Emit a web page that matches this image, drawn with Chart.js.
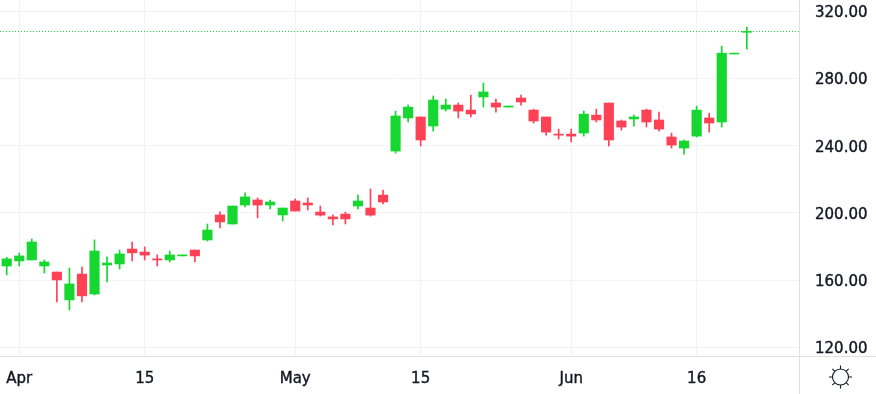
<!DOCTYPE html>
<html>
<head>
<meta charset="utf-8">
<title>Candlestick chart</title>
<script src="https://cdn.jsdelivr.net/npm/chart.js@4/dist/chart.umd.min.js"></script>
<style>
  html, body { margin: 0; padding: 0; background: #fff; }
  canvas { display: block; }
</style>
</head>
<body>
<canvas id="priceChart" width="876" height="394"></canvas>
<script>
// Daily candles, oldest first
const opens = [168.4, 171.4, 172, 168.4, 164.8, 148.2, 163.6, 151.7, 169, 169.6,
  178.5, 176.7, 172.6, 172, 174.4, 177.9, 183.9, 198.8, 193.4, 204.7,
  207.7, 204.7, 198.8, 207.1, 205.9, 200.5, 197.6, 199.3, 204.1, 202.9,
  210.6, 236.8, 256.5, 257.1, 251.7, 261.8, 264.2, 261.2, 269, 265.4,
  263, 268.4, 261.2, 257.1, 246.9, 246.9, 247.5, 258.2, 265.4, 254.7,
  255.9, 261.2, 255.3, 245.2, 238.6, 245.7, 256.5, 254.1, 294.6, 307.5];
const highs = [173.6, 176.1, 184.5, 172, 164.8, 167.2, 167.8, 183.9, 173.8, 177.9,
  182.7, 179.7, 175, 177.3, 175, 177.9, 193.4, 200.6, 204.1, 211.9,
  208.9, 207.7, 202.9, 208.3, 208.9, 204.1, 198.8, 200.5, 210.6, 214.2,
  213.6, 260.6, 264.2, 257.1, 269.6, 267.8, 265.4, 270.2, 277.3, 267.8,
  263.6, 270.2, 261.8, 257.1, 249.9, 249.9, 260.6, 261.8, 265.4, 255.3,
  258.2, 261.8, 260, 247.5, 243.4, 263.6, 259.4, 299.3, 295.1, 310.6];
const lows = [163.1, 168.4, 172, 164.2, 147, 142.2, 147, 151.2, 158.9, 166.6,
  171.4, 172, 168.4, 170.8, 174.4, 170.8, 183.3, 191, 193.4, 203.5,
  197, 202.3, 195.2, 201.1, 201.7, 198.1, 192.8, 193.4, 202.3, 198.1,
  205.3, 235.6, 254.1, 239.8, 248.7, 260.6, 256.5, 257.1, 263, 260,
  263, 264.2, 253.5, 246.3, 244, 242.2, 245.7, 254.1, 239.8, 249.3,
  251.7, 251.1, 248.7, 238.6, 235, 245.2, 248.1, 251.1, 294.6, 297.5];
const closes = [172.6, 174.4, 182.7, 170.8, 160.1, 157.7, 150.6, 177.3, 170.2, 175.6,
  176.2, 174.9, 172, 175, 175, 174.4, 189.8, 194.6, 204.1, 209.5,
  204.7, 206.5, 202.9, 201.1, 204.7, 198.7, 196.4, 196.4, 207.1, 198.7,
  206.5, 257.7, 263, 243.4, 267.2, 264.2, 260.6, 258.9, 272, 263,
  263.6, 266, 254.7, 248.1, 246.3, 245.7, 258.8, 255.3, 243.4, 251.1,
  257.1, 254.1, 249.9, 240.4, 242.8, 261.2, 253.5, 295.1, 295.1, 308];

const lastPrice = 308;

// Time axis: candle number of each labelled date
const tickPositions = [1, 11, 23, 33, 45, 55];
const tickLabels = ['Apr', '15', 'May', '15', 'Jun', '16'];
const priceTicks = [120, 160, 200, 240, 280, 320];

const colors = {
  up: '#16d72f',
  down: '#ff4155',
  grid: '#f1f3f6',
  border: '#e0e0e0',
  text: '#131722'
};

const xMin = -0.534;
const xMax = 63.16;

const candleColor = closes.map((c, i) => (c >= opens[i] ? colors.up : colors.down));
const wicks = lows.map((l, i) => ({ x: i, y: [l, highs[i]] }));
const bodies = opens.map((o, i) => ({ x: i, y: [o, closes[i]] }));

// Axis separators run on past the plot; the sun button sits in the corner
const framePlugin = {
  id: 'frame',
  afterDraw(chart) {
    const { ctx, chartArea, width, height } = chart;
    ctx.save();
    ctx.strokeStyle = colors.border;
    ctx.lineWidth = 1;
    ctx.beginPath();
    ctx.moveTo(chartArea.right + 0.5, 0);
    ctx.lineTo(chartArea.right + 0.5, height);
    ctx.moveTo(0, chartArea.bottom + 0.5);
    ctx.lineTo(width, chartArea.bottom + 0.5);
    ctx.stroke();

    const cx = 840.5;
    const cy = 377;
    ctx.strokeStyle = colors.text;
    ctx.lineWidth = 1.1;
    ctx.beginPath();
    ctx.arc(cx, cy, 8, 0, Math.PI * 2);
    for (let k = 0; k < 8; k++) {
      const a = k * Math.PI / 4;
      ctx.moveTo(cx + Math.cos(a) * 8, cy + Math.sin(a) * 8);
      ctx.lineTo(cx + Math.cos(a) * 11.5, cy + Math.sin(a) * 11.5);
    }
    ctx.stroke();
    ctx.restore();
  }
};

new Chart(document.getElementById('priceChart'), {
  type: 'bar',
  plugins: [framePlugin],
  data: {
    datasets: [
      {
        label: 'Last price',
        type: 'line',
        data: [{ x: xMin, y: lastPrice }, { x: xMax, y: lastPrice }],
        borderColor: colors.up,
        borderWidth: 1,
        borderDash: [1, 2],
        pointRadius: 0,
        order: 0
      },
      {
        label: 'Body',
        data: bodies,
        backgroundColor: candleColor,
        barThickness: 9.5,
        grouped: false,
        order: 1
      },
      {
        label: 'Wick',
        data: wicks,
        backgroundColor: candleColor,
        barThickness: 1,
        grouped: false,
        order: 2
      }
    ]
  },
  options: {
    responsive: false,
    animation: false,
    devicePixelRatio: 1,
    layout: { padding: 0, autoPadding: false },
    plugins: {
      legend: { display: false },
      title: { display: false },
      tooltip: { enabled: false }
    },
    scales: {
      x: {
        type: 'linear',
        min: xMin,
        max: xMax,
        offset: false,
        grid: { color: colors.grid, offset: false, drawTicks: false },
        border: { display: false },
        afterBuildTicks(scale) {
          scale.ticks = tickPositions.map(v => ({ value: v }));
        },
        afterFit(scale) {
          scale.height = 38;
          scale.paddingLeft = 0;
          scale.paddingRight = 0;
        },
        ticks: {
          color: colors.text,
          font: { family: '"DejaVu Sans"', size: 15 },
          textStrokeColor: colors.text,
          textStrokeWidth: 0.4,
          padding: 14,
          maxRotation: 0,
          autoSkip: false,
          callback: v => tickLabels[tickPositions.indexOf(v)]
        }
      },
      y: {
        position: 'right',
        min: 114.82,
        max: 326.73,
        grid: { color: colors.grid, drawTicks: false },
        border: { display: false },
        afterBuildTicks(scale) {
          scale.ticks = priceTicks.map(v => ({ value: v }));
        },
        afterFit(scale) {
          scale.width = 77;
          scale.paddingTop = 0;
          scale.paddingBottom = 0;
        },
        ticks: {
          color: colors.text,
          font: { family: '"DejaVu Sans"', size: 15 },
          textStrokeColor: colors.text,
          textStrokeWidth: 0.4,
          padding: 16,
          labelOffset: 2,
          callback: v => v.toFixed(2)
        }
      }
    }
  }
});
</script>
</body>
</html>
